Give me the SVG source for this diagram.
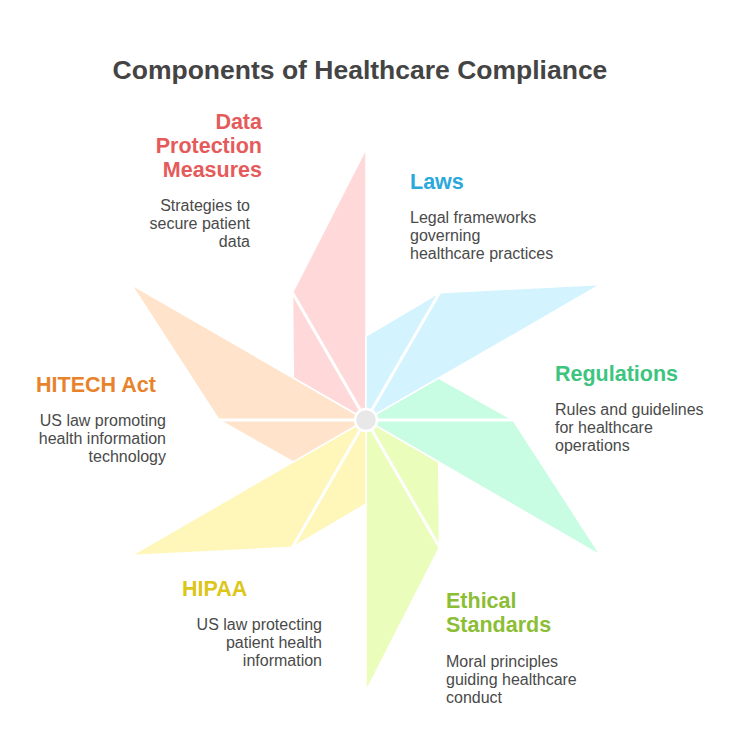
<svg xmlns="http://www.w3.org/2000/svg" width="744" height="756" viewBox="0 0 744 756">
<style>
.petal{stroke:#fff;stroke-width:1.5;stroke-linejoin:miter}
.spoke{stroke:#fff;stroke-width:3;stroke-linecap:round}
.h{font-family:"Liberation Sans",Arial,sans-serif;font-weight:bold;font-size:21.5px}
.d{font-family:"Liberation Sans",Arial,sans-serif;font-size:16px;fill:#4a4a4a}
.title{font-family:"Liberation Sans",Arial,sans-serif;font-weight:bold;font-size:26.5px;fill:#444}
.r{text-anchor:end}
</style>
<rect width="744" height="756" fill="#fff"/>
<text class="title" x="360" y="79" text-anchor="middle">Components of Healthcare Compliance</text>
<g id="data-protection">
<polygon class="petal" fill="#FFD9D9" points="366,420 366,149 292.5,292.7 293.3,378"/>
<line class="spoke" x1="366" y1="420" x2="292.5" y2="292.7"/>
<text class="h r" fill="#E55B5B"><tspan x="262" y="129">Data</tspan><tspan x="262" y="153">Protection</tspan><tspan x="262" y="177">Measures</tspan></text>
<text class="d r"><tspan x="250" y="211">Strategies to</tspan><tspan x="250" y="229">secure patient</tspan><tspan x="250" y="247">data</tspan></text>
</g>
<g id="laws">
<polygon class="petal" fill="#D3F3FE" points="366,420 600.7,284.5 439.5,292.7 366,336"/>
<line class="spoke" x1="366" y1="420" x2="439.5" y2="292.7"/>
<text class="h" fill="#2BA8DC" x="410" y="189">Laws</text>
<text class="d"><tspan x="410" y="223">Legal frameworks</tspan><tspan x="410" y="241">governing</tspan><tspan x="410" y="259">healthcare practices</tspan></text>
</g>
<g id="regulations">
<polygon class="petal" fill="#C8FDE3" points="366,420 600.7,555.5 513,420 438.7,378"/>
<line class="spoke" x1="366" y1="420" x2="513" y2="420"/>
<text class="h" fill="#3DC47F" x="555" y="381">Regulations</text>
<text class="d"><tspan x="555" y="415">Rules and guidelines</tspan><tspan x="555" y="433">for healthcare</tspan><tspan x="555" y="451">operations</tspan></text>
</g>
<g id="ethical-standards">
<polygon class="petal" fill="#EAFDBB" points="366,420 366,691 439.5,547.3 438.7,462"/>
<line class="spoke" x1="366" y1="420" x2="439.5" y2="547.3"/>
<text class="h" fill="#8CBE35"><tspan x="446" y="608">Ethical</tspan><tspan x="446" y="632">Standards</tspan></text>
<text class="d"><tspan x="446" y="667">Moral principles</tspan><tspan x="446" y="685">guiding healthcare</tspan><tspan x="446" y="703">conduct</tspan></text>
</g>
<g id="hipaa">
<polygon class="petal" fill="#FFF6B9" points="366,420 131.3,555.5 292.5,547.3 366,504"/>
<line class="spoke" x1="366" y1="420" x2="292.5" y2="547.3"/>
<text class="h" fill="#DDC61A" x="182" y="596">HIPAA</text>
<text class="d r"><tspan x="322" y="630">US law protecting</tspan><tspan x="322" y="648">patient health</tspan><tspan x="322" y="666">information</tspan></text>
</g>
<g id="hitech-act">
<polygon class="petal" fill="#FFE3CA" points="366,420 131.3,284.5 219,420 293.3,462"/>
<line class="spoke" x1="366" y1="420" x2="219" y2="420"/>
<text class="h" fill="#E8832C" x="36" y="392">HITECH Act</text>
<text class="d r"><tspan x="166" y="426">US law promoting</tspan><tspan x="166" y="444">health information</tspan><tspan x="166" y="462">technology</tspan></text>
</g>
<g id="center">
<circle cx="366" cy="420" r="11" fill="#E8E8E8" stroke="#fff" stroke-width="2.5"/>
</g>
</svg>
